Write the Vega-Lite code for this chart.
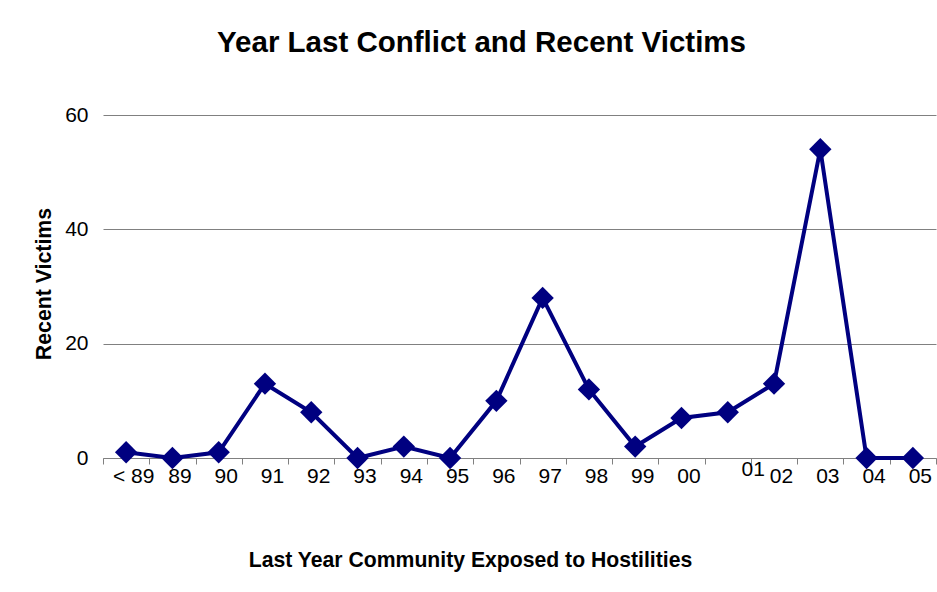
{
  "$schema": "https://vega.github.io/schema/vega-lite/v6.json",
  "width": 833,
  "height": 343,
  "autosize": "none",
  "padding": {"left": 103, "top": 115, "right": 1, "bottom": 134},
  "background": "white",
  "title": {
    "text": "Year Last Conflict and Recent Victims",
    "font": "Liberation Sans",
    "fontSize": 29.5,
    "fontWeight": "bold",
    "color": "black",
    "offset": 46,
    "anchor": "middle",
    "dx": -38
  },
  "data": {
    "values": [
      {"year": "< 89", "victims": 1},
      {"year": "89", "victims": 0},
      {"year": "90", "victims": 1},
      {"year": "91", "victims": 13},
      {"year": "92", "victims": 8},
      {"year": "93", "victims": 0},
      {"year": "94", "victims": 2},
      {"year": "95", "victims": 0},
      {"year": "96", "victims": 10},
      {"year": "97", "victims": 28},
      {"year": "98", "victims": 12},
      {"year": "99", "victims": 2},
      {"year": "00", "victims": 7},
      {"year": "01", "victims": 8},
      {"year": "02", "victims": 13},
      {"year": "03", "victims": 54},
      {"year": "04", "victims": 0},
      {"year": "05", "victims": 0}
    ]
  },
  "mark": {
    "type": "line",
    "color": "#000080",
    "strokeWidth": 4,
    "point": {"shape": "diamond", "size": 500, "filled": true, "color": "#000080", "opacity": 1}
  },
  "encoding": {
    "x": {
      "field": "year",
      "type": "ordinal",
      "sort": null,
      "scale": {"type": "band", "paddingInner": 0, "paddingOuter": 0},
      "axis": {
        "title": "Last Year Community Exposed to Hostilities",
        "titleFont": "Liberation Sans",
        "titleFontSize": 21.2,
        "titleFontWeight": "bold",
        "titleColor": "black",
        "titleX": 367,
        "titleY": 108,
        "titleBaseline": "alphabetic",
        "labelFont": "Liberation Sans",
        "labelFontSize": 21,
        "labelColor": "black",
        "labelAngle": 0,
        "labelOffset": {"condition": {"test": "datum.value === '01'", "value": 25}, "value": 7},
        "labelPadding": {"condition": {"test": "datum.value === '01'", "value": -6}, "value": 1},
        "tickBand": "extent",
        "tickSize": 6,
        "tickColor": "#808080",
        "domainColor": "#808080",
        "grid": false
      }
    },
    "y": {
      "field": "victims",
      "type": "quantitative",
      "scale": {"domain": [0, 60], "nice": false},
      "axis": {
        "title": "Recent Victims",
        "titleFont": "Liberation Sans",
        "titleFontSize": 21.3,
        "titleFontWeight": "bold",
        "titleColor": "black",
        "titleX": -53,
        "titleY": 168.5,
        "titleBaseline": "alphabetic",
        "values": [0, 20, 40, 60],
        "labelFont": "Liberation Sans",
        "labelFontSize": 21,
        "labelColor": "black",
        "labelPadding": 15,
        "ticks": false,
        "domain": false,
        "grid": true,
        "gridColor": "#808080",
        "gridWidth": 1,
        "gridOpacity": 1
      }
    }
  },
  "config": {"view": {"stroke": null}}
}
